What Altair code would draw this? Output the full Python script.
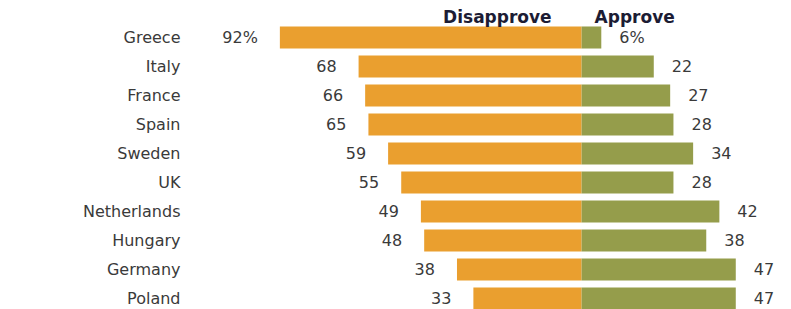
import altair as alt
import pandas as pd

countries = ["Greece", "Italy", "France", "Spain", "Sweden", "UK",
             "Netherlands", "Hungary", "Germany", "Poland"]
disapprove = [92, 68, 66, 65, 59, 55, 49, 48, 38, 33]
approve = [6, 22, 27, 28, 34, 28, 42, 38, 47, 47]
dis_labels = ["92%", "68", "66", "65", "59", "55", "49", "48", "38", "33"]
app_labels = ["6%", "22", "27", "28", "34", "28", "42", "38", "47", "47"]

ORANGE = "#EA9F2F"
GREEN = "#959D4B"
TEXT = "#3a3a3a"
FONT = "DejaVu Sans"

df = pd.DataFrame({
    "country": countries,
    "dis": [-v for v in disapprove],
    "app": approve,
    "dis_label": dis_labels,
    "app_label": app_labels,
})
headers = pd.DataFrame({"h": ["Disapprove", "Approve"], "pos": [0, 0]})

x_scale = alt.Scale(domain=[-119.4, 61.4], nice=False, zero=False)
y_enc = alt.Y("country:N", sort=countries,
              scale=alt.Scale(paddingInner=0.24, paddingOuter=0.12),
              axis=alt.Axis(title=None, domain=False, ticks=False, grid=False,
                            labelPadding=10, labelFontSize=16,
                            labelFont=FONT, labelColor=TEXT,
                            labelAlign="right"))

base = alt.Chart(df)

dis_bar = base.mark_bar(color=ORANGE).encode(
    x=alt.X("dis:Q", scale=x_scale, axis=None),
    x2=alt.datum(0),
    y=y_enc,
)
app_bar = base.mark_bar(color=GREEN).encode(
    x=alt.X("app:Q", scale=x_scale, axis=None),
    x2=alt.datum(0),
    y=y_enc,
)
dis_text = base.mark_text(align="right", baseline="middle", dx=-22,
                          fontSize=16, font=FONT, color=TEXT).encode(
    x=alt.X("dis:Q", scale=x_scale, axis=None),
    y=y_enc,
    text="dis_label:N",
)
app_text = base.mark_text(align="left", baseline="middle", dx=18,
                          fontSize=16, font=FONT, color=TEXT).encode(
    x=alt.X("app:Q", scale=x_scale, axis=None),
    y=y_enc,
    text="app_label:N",
)

hdr = alt.Chart(headers)
dis_hdr = hdr.transform_filter("datum.h == 'Disapprove'").mark_text(
    align="right", baseline="middle", dx=-30, fontSize=17, font=FONT,
    fontWeight="bold", color="#1c1c34").encode(
    x=alt.X("pos:Q", scale=x_scale, axis=None),
    y=alt.value(-5),
    text="h:N",
)
app_hdr = hdr.transform_filter("datum.h == 'Approve'").mark_text(
    align="left", baseline="middle", dx=13, fontSize=17, font=FONT,
    fontWeight="bold", color="#1c1c34").encode(
    x=alt.X("pos:Q", scale=x_scale, axis=None),
    y=alt.value(-5),
    text="h:N",
)

chart = alt.layer(dis_bar, app_bar, dis_text, app_text, dis_hdr, app_hdr).properties(
    width=593,
    height=290,
    background="white",
    autosize=alt.AutoSizeParams(type="none"),
    padding={"left": 182, "top": 15, "right": 0, "bottom": 0},
).configure_view(stroke=None)

chart.save("out.html", embed_options={"renderer": "svg", "actions": False})
